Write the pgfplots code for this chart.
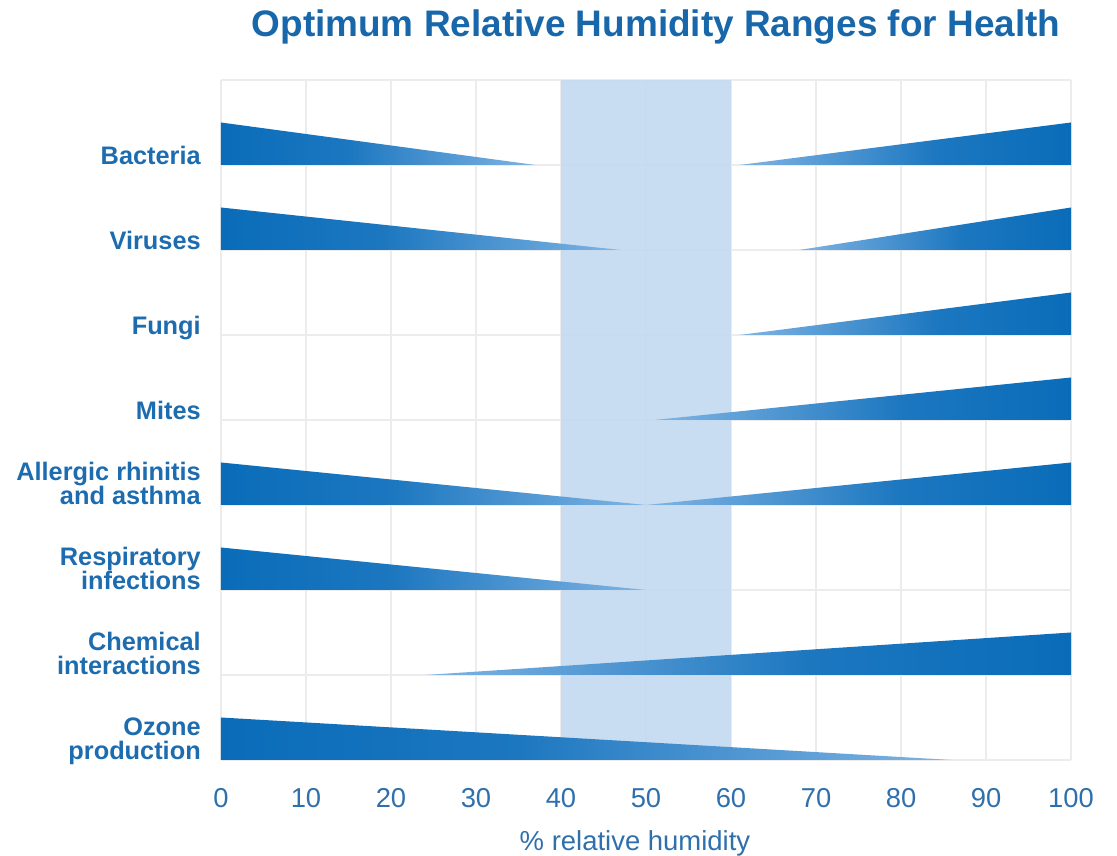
\documentclass[border=0pt]{standalone}
\usepackage{pgfplots}
\pgfplotsset{compat=1.18}
\usepackage{fontspec}
\setmainfont{Liberation Sans}

\definecolor{titleblue}{HTML}{1767AA}
\definecolor{labelblue}{HTML}{1C6CAF}
\definecolor{tickblue}{HTML}{2F70AC}
\definecolor{wdark}{HTML}{0A6CB9}
\definecolor{wlight}{HTML}{80B4E4}
\definecolor{band}{HTML}{C4DAF0}
\definecolor{gridgray}{HTML}{ECECEC}

% wedge fades: thick end dark, thin tip light
\pgfdeclarehorizontalshading{fadeR}{100bp}{color(0bp)=(wdark); color(25bp)=(wdark); color(45bp)=(wdark!85!wlight); color(75bp)=(wlight); color(100bp)=(wlight)}
\pgfdeclarehorizontalshading{fadeL}{100bp}{color(0bp)=(wlight); color(25bp)=(wlight); color(55bp)=(wdark!85!wlight); color(75bp)=(wdark); color(100bp)=(wdark)}

\newcommand{\twolines}[2]{\vbox{\baselineskip=18.6pt\halign{\hfil##\cr #1\cr #2\cr}}}

\begin{document}
\begin{tikzpicture}[
  cat/.style={anchor=base east, inner sep=0pt, text=labelblue,
    font=\fontsize{19}{19}\selectfont\bfseries}]
\begin{axis}[
  scale only axis,
  width=637.5pt, height=510pt,
  xmin=0, xmax=100, ymin=0, ymax=8,
  xtick={0,10,...,100},
  ytick={0,1,...,8},
  yticklabels={},
  xmajorgrids, ymajorgrids,
  grid style={gridgray, line width=1.2pt},
  axis line style={draw=none},
  major tick length=0pt,
  clip=false,
  /pgf/number format/assume math mode=true,
  xticklabel style={anchor=base, yshift=-35.25pt, text=tickblue,
    font=\fontsize{20.5}{20.5}\selectfont},
]
% optimum zone 40-60 %
\addplot[draw=none, fill=band, fill opacity=0.93] coordinates {(40,0) (40,8) (60,8) (60,0)};

% Bacteria
\addplot[draw=none, shade, shading=fadeR] coordinates {(0,7) (0,7.5) (37,7)};
\addplot[draw=none, shade, shading=fadeL] coordinates {(61,7) (100,7.5) (100,7)};
% Viruses
\addplot[draw=none, shade, shading=fadeR] coordinates {(0,6) (0,6.5) (47,6)};
\addplot[draw=none, shade, shading=fadeL] coordinates {(68,6) (100,6.5) (100,6)};
% Fungi
\addplot[draw=none, shade, shading=fadeL] coordinates {(61,5) (100,5.5) (100,5)};
% Mites
\addplot[draw=none, shade, shading=fadeL] coordinates {(51,4) (100,4.5) (100,4)};
% Allergic rhinitis and asthma
\addplot[draw=none, shade, shading=fadeR] coordinates {(0,3) (0,3.5) (50,3)};
\addplot[draw=none, shade, shading=fadeL] coordinates {(50,3) (100,3.5) (100,3)};
% Respiratory infections
\addplot[draw=none, shade, shading=fadeR] coordinates {(0,2) (0,2.5) (50,2)};
% Chemical interactions
\addplot[draw=none, shade, shading=fadeL] coordinates {(24,1) (100,1.5) (100,1)};
% Ozone production
\addplot[draw=none, shade, shading=fadeR] coordinates {(0,0) (0,0.5) (86,0)};

% row labels
\node[cat] at ([xshift=-15pt]axis cs:0,7) {Bacteria};
\node[cat] at ([xshift=-15pt]axis cs:0,6) {Viruses};
\node[cat] at ([xshift=-15pt]axis cs:0,5) {Fungi};
\node[cat] at ([xshift=-15pt]axis cs:0,4) {Mites};
\node[cat] at ([xshift=-15pt]axis cs:0,3) {\twolines{Allergic rhinitis}{and asthma}};
\node[cat] at ([xshift=-15pt]axis cs:0,2) {\twolines{Respiratory}{infections}};
\node[cat] at ([xshift=-15pt]axis cs:0,1) {\twolines{Chemical}{interactions}};
\node[cat] at ([xshift=-15pt]axis cs:0,0) {\twolines{Ozone}{production}};

% title and axis label
\node[anchor=base, inner sep=0pt, text=titleblue,
  font=\fontsize{27.7}{27.7}\selectfont\bfseries]
  at ([xshift=7.5pt, yshift=32.6pt]rel axis cs:0.5,1)
  {Optimum Relative Humidity Ranges for Health};
\node[anchor=base, inner sep=0pt, text=tickblue,
  font=\fontsize{20.6}{20.6}\selectfont]
  at ([xshift=-8.25pt, yshift=-67.5pt]rel axis cs:0.5,0)
  {\% relative humidity};

\coordinate (pbl) at (rel axis cs:0,0);
\coordinate (ptr) at (rel axis cs:1,1);
\end{axis}
\path ([shift={(-165.75pt,-72pt)}]pbl) rectangle ([shift={(34.5pt,60pt)}]ptr);
\end{tikzpicture}
\end{document}
